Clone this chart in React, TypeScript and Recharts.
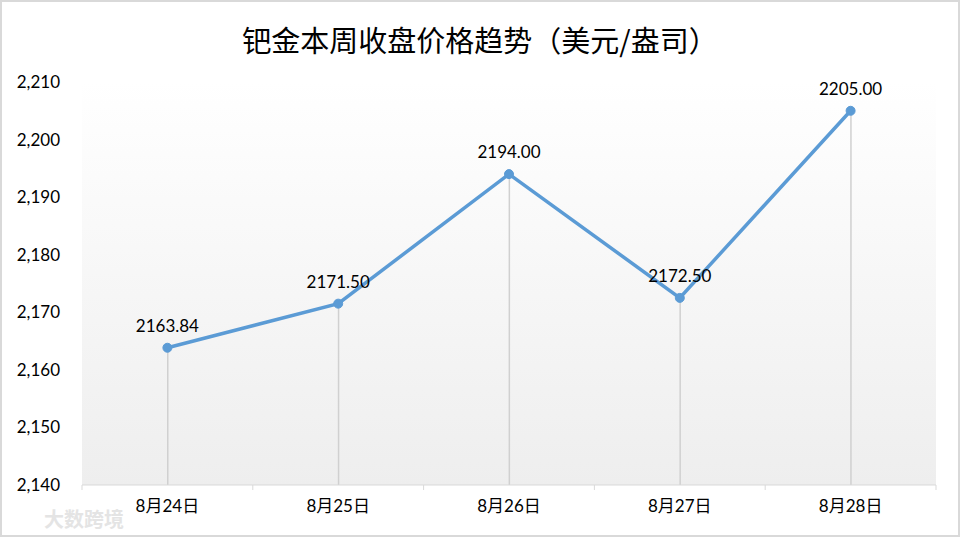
import { ComposedChart, Line, Bar, XAxis, YAxis, CartesianGrid, LabelList } from "recharts";

const days = ["8月24日", "8月25日", "8月26日", "8月27日", "8月28日"];
const closePrices = [2163.84, 2171.5, 2194.0, 2172.5, 2205.0];
const yTicks = [2140, 2150, 2160, 2170, 2180, 2190, 2200, 2210];

const data = days.map((day, i) => ({ day, price: closePrices[i] }));

const FONT = "Lato, 'Noto Sans CJK SC', sans-serif";
const BAND = 854 / days.length;

const DayTick = (props: any) => {
  const { x, y, payload, index } = props;
  return (
    <g>
      <line x1={x - BAND / 2} y1={y} x2={x - BAND / 2} y2={y + 5} stroke="#d9d9d9" />
      {index === days.length - 1 && (
        <line x1={x + BAND / 2} y1={y} x2={x + BAND / 2} y2={y + 5} stroke="#d9d9d9" />
      )}
      <text x={x} y={y + 15} dy="0.71em" textAnchor="middle" fontSize={17} fill="#000" fontFamily={FONT}>
        {payload.value}
      </text>
    </g>
  );
};

export default function App() {
  return (
    <div
      style={{
        position: "absolute",
        left: 0,
        top: 0,
        width: 960,
        height: 537,
        boxSizing: "border-box",
        border: "2px solid #d9d9d9",
        background: "#fff",
        fontFamily: FONT,
      }}
    >
      <div
        style={{
          position: "absolute",
          top: 16,
          left: 0,
          width: 956,
          textAlign: "center",
          fontSize: 29,
          color: "#000",
          fontFamily: "'Noto Sans CJK SC', sans-serif",
        }}
      >
        钯金本周收盘价格趋势（美元/盎司）
      </div>
      <div style={{ position: "absolute", top: 0, left: 0 }}>
        <ComposedChart width={956} height={533} data={data} margin={{ top: 80, right: 22, left: 0, bottom: 10 }}>
          <defs>
            <linearGradient id="plotBg" x1="0" y1="0" x2="0" y2="1">
              <stop offset="0%" stopColor="#ffffff" />
              <stop offset="100%" stopColor="#eeeeee" />
            </linearGradient>
          </defs>
          <CartesianGrid horizontal={false} vertical={false} fill="url(#plotBg)" />
          <XAxis
            dataKey="day"
            scale="band"
            axisLine={{ stroke: "#d9d9d9" }}
            tickLine={false}
            tickSize={0}
            tickMargin={0}
            height={40}
            tick={<DayTick />}
          />
          <YAxis
            domain={[2140, 2210]}
            ticks={yTicks}
            width={80}
            axisLine={false}
            tickLine={false}
            tickSize={0}
            tickMargin={22}
            tickFormatter={(v: number) => v.toLocaleString("en-US")}
            tick={{ fontSize: 17, fill: "#000", fontFamily: FONT }}
          />
          <Bar dataKey="price" barSize={1.5} fill="#d0d0d0" isAnimationActive={false} />
          <Line
            dataKey="price"
            type="linear"
            stroke="#5b9bd5"
            strokeWidth={3.5}
            dot={{ r: 4.5, fill: "#5b9bd5", stroke: "#5b9bd5", strokeWidth: 1 }}
            activeDot={false}
            isAnimationActive={false}
          >
            <LabelList
              dataKey="price"
              position="top"
              offset={16}
              formatter={(v: any) => Number(v).toFixed(2)}
              style={{ fontSize: 17, fill: "#000", fontFamily: FONT }}
            />
          </Line>
        </ComposedChart>
      </div>
      <div
        style={{
          position: "absolute",
          left: 42,
          top: 502,
          fontSize: 20,
          color: "#e4e4e4",
          fontWeight: 700,
          fontFamily: "'Noto Sans CJK SC', sans-serif",
        }}
      >
        大数跨境
      </div>
    </div>
  );
}
